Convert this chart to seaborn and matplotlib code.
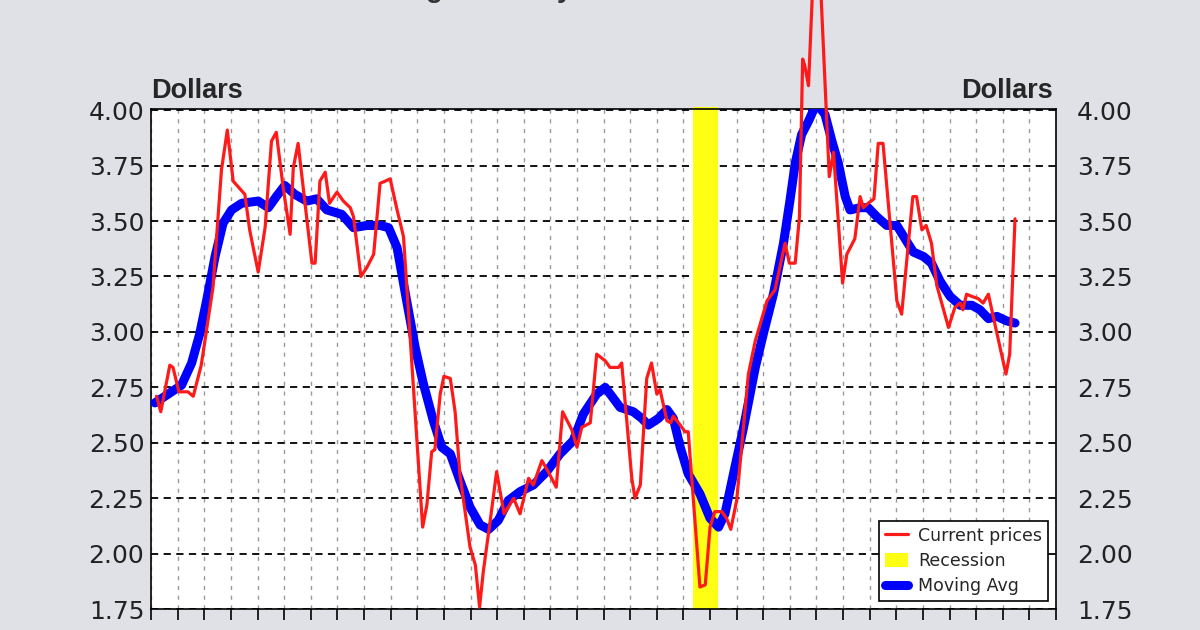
"""Benzinpreis (aktuell) mit gleitendem Durchschnitt und Rezessionsbalken."""

import matplotlib
matplotlib.use('Agg')
import matplotlib.pyplot as plt
import pandas as pd
import seaborn as sns
from matplotlib.lines import Line2D
from matplotlib.patches import Patch


# Daten (x in Dezimaljahren)
price_year = [
    2010.10, 2010.18, 2010.35, 2010.41, 2010.52, 2010.69, 2010.79, 2010.94, 2011.16, 2011.32,
    2011.43, 2011.54, 2011.76, 2011.85, 2012.01, 2012.14, 2012.26, 2012.35, 2012.48, 2012.61,
    2012.67, 2012.76, 2013.02, 2013.08, 2013.17, 2013.27, 2013.35, 2013.49, 2013.61, 2013.74,
    2013.80, 2013.94, 2014.05, 2014.18, 2014.30, 2014.40, 2014.49, 2014.62, 2014.74, 2015.10,
    2015.18, 2015.27, 2015.33, 2015.43, 2015.50, 2015.62, 2015.71, 2015.80, 2015.99, 2016.09,
    2016.17, 2016.24, 2016.37, 2016.49, 2016.63, 2016.81, 2016.93, 2017.09, 2017.18, 2017.34,
    2017.46, 2017.61, 2017.73, 2017.90, 2018.00, 2018.09, 2018.25, 2018.37, 2018.53, 2018.62,
    2018.78, 2018.84, 2019.03, 2019.09, 2019.19, 2019.31, 2019.40, 2019.50, 2019.56, 2019.69,
    2019.76, 2019.81, 2019.94, 2020.03, 2020.09, 2020.31, 2020.41, 2020.50, 2020.59, 2020.72,
    2020.81, 2020.89, 2021.00, 2021.22, 2021.35, 2021.57, 2021.72, 2021.91, 2021.99, 2022.10,
    2022.18, 2022.24, 2022.28, 2022.35, 2022.50, 2022.74, 2022.82, 2022.99, 2023.07, 2023.22,
    2023.32, 2023.38, 2023.47, 2023.58, 2023.66, 2023.75, 2024.01, 2024.10, 2024.31, 2024.38,
    2024.48, 2024.56, 2024.66, 2024.76, 2024.98, 2025.10, 2025.20, 2025.25, 2025.32, 2025.42,
    2025.54, 2025.63, 2025.73, 2025.82, 2026.06, 2026.13, 2026.23,
]
price_value = [
    2.71, 2.64, 2.85, 2.84, 2.73, 2.73, 2.71, 2.85, 3.20, 3.73,
    3.91, 3.68, 3.62, 3.46, 3.27, 3.47, 3.86, 3.90, 3.65, 3.44,
    3.74, 3.85, 3.31, 3.31, 3.68, 3.72, 3.58, 3.63, 3.59, 3.56,
    3.52, 3.25, 3.29, 3.35, 3.67, 3.68, 3.69, 3.55, 3.43, 2.12,
    2.22, 2.46, 2.47, 2.72, 2.80, 2.79, 2.64, 2.36, 2.03, 1.95,
    1.76, 1.92, 2.15, 2.37, 2.18, 2.25, 2.18, 2.34, 2.31, 2.42,
    2.37, 2.30, 2.64, 2.56, 2.48, 2.57, 2.59, 2.90, 2.87, 2.84,
    2.84, 2.86, 2.34, 2.25, 2.31, 2.79, 2.86, 2.72, 2.74, 2.60,
    2.59, 2.62, 2.58, 2.55, 2.55, 1.85, 1.86, 2.12, 2.19, 2.19,
    2.16, 2.11, 2.24, 2.81, 2.96, 3.14, 3.19, 3.40, 3.31, 3.31,
    3.52, 4.23, 4.20, 4.11, 4.97, 3.70, 3.81, 3.22, 3.35, 3.42,
    3.61, 3.56, 3.58, 3.60, 3.85, 3.85, 3.14, 3.08, 3.61, 3.61,
    3.46, 3.48, 3.40, 3.21, 3.02, 3.11, 3.13, 3.10, 3.17, 3.16,
    3.15, 3.13, 3.17, 3.07, 2.81, 2.90, 3.51,
]

avg_year = [
    2010.07, 2010.32, 2010.57, 2010.76, 2010.91, 2011.04, 2011.20, 2011.35, 2011.51, 2011.70,
    2012.01, 2012.20, 2012.35, 2012.51, 2012.70, 2012.92, 2013.11, 2013.30, 2013.58, 2013.80,
    2014.05, 2014.30, 2014.46, 2014.62, 2014.80, 2014.96, 2015.11, 2015.30, 2015.46, 2015.62,
    2015.80, 2015.99, 2016.18, 2016.34, 2016.52, 2016.71, 2016.93, 2017.18, 2017.43, 2017.68,
    2017.93, 2018.12, 2018.37, 2018.53, 2018.81, 2019.06, 2019.22, 2019.34, 2019.53, 2019.69,
    2019.81, 2019.94, 2020.09, 2020.31, 2020.50, 2020.66, 2020.78, 2020.94, 2021.13, 2021.35,
    2021.50, 2021.69, 2021.88, 2022.00, 2022.10, 2022.22, 2022.35, 2022.50, 2022.66, 2022.79,
    2022.91, 2023.04, 2023.13, 2023.32, 2023.47, 2023.63, 2023.82, 2024.01, 2024.19, 2024.32,
    2024.51, 2024.66, 2024.82, 2025.01, 2025.20, 2025.42, 2025.57, 2025.73, 2025.89, 2026.07,
    2026.23,
]
avg_value = [
    2.68, 2.72, 2.76, 2.86, 2.99, 3.14, 3.34, 3.49, 3.55, 3.58,
    3.59, 3.56, 3.61, 3.66, 3.62, 3.59, 3.60, 3.55, 3.53, 3.47,
    3.48, 3.48, 3.47, 3.38, 3.14, 2.93, 2.77, 2.60, 2.48, 2.45,
    2.33, 2.21, 2.13, 2.11, 2.15, 2.24, 2.28, 2.31, 2.37, 2.45,
    2.51, 2.63, 2.72, 2.75, 2.66, 2.64, 2.61, 2.58, 2.61, 2.65,
    2.61, 2.48, 2.36, 2.27, 2.16, 2.12, 2.18, 2.36, 2.57, 2.84,
    2.99, 3.17, 3.40, 3.59, 3.76, 3.89, 3.95, 4.03, 3.98, 3.86,
    3.76, 3.61, 3.55, 3.56, 3.56, 3.52, 3.48, 3.48, 3.41, 3.36,
    3.34, 3.31, 3.23, 3.16, 3.12, 3.12, 3.10, 3.06, 3.07, 3.05,
    3.04,
]

recession_start = 2020.18
recession_end = 2020.65

y_ticks = [1.75, 2.00, 2.25, 2.50, 2.75, 3.00, 3.25, 3.50, 3.75, 4.00]
x_ticks = [2010 + 0.5 * i for i in range(35)]

BG = '#dfe1e6'
RED = '#ff1a1a'
BLUE = '#0000ff'
YELLOW = '#ffff14'
LABEL_FONT = ['DejaVu Sans']


def main():
    sns.set_style('white')
    plt.rcParams['font.family'] = ['Liberation Sans', 'DejaVu Sans']

    price_df = pd.DataFrame({'year': price_year, 'value': price_value})
    avg_df = pd.DataFrame({'year': avg_year, 'value': avg_value})

    fig = plt.figure(figsize=(12, 6.3), dpi=100, facecolor=BG)
    ax = fig.add_axes([0.126, 0.033, 0.754, 0.794])
    ax.set_facecolor('white')

    # Rezession
    ax.axvspan(recession_start, recession_end, ymax=1.004, color=YELLOW, lw=0,
               zorder=1.5, clip_on=False)

    sns.lineplot(data=avg_df, x='year', y='value', ax=ax, color=BLUE, lw=6.5,
                 solid_capstyle='round', zorder=3)
    sns.lineplot(data=price_df, x='year', y='value', ax=ax, color=RED, lw=2.3,
                 zorder=4, clip_on=False)

    ax.set_xlim(2010, 2027)
    ax.set_ylim(1.75, 4.005)
    ax.set_xlabel('')
    ax.set_ylabel('')

    # Gitter
    ax.set_axisbelow(True)
    ax.set_yticks(y_ticks)
    ax.set_xticks(x_ticks)
    ax.yaxis.grid(True, color='black', lw=1.3, ls=(0, (4, 3)))
    ax.xaxis.grid(True, color='#9a9a9a', lw=1.0, ls=(0, (3, 4)))

    ax.set_xticklabels([])
    ax.tick_params(axis='x', direction='out', length=8, width=1.2, color='black', bottom=True)
    ax.tick_params(axis='y', length=0, pad=5, labelsize=18, labelcolor='#222222')
    ax.set_yticklabels([f'{t:.2f}' for t in y_ticks], family=LABEL_FONT)

    for spine in ax.spines.values():
        spine.set_color('black')
        spine.set_linewidth(1.2)

    ax2 = ax.twinx()
    ax2.set_ylim(ax.get_ylim())
    ax2.set_yticks(y_ticks)
    ax2.set_yticklabels([f'{t:.2f}' for t in y_ticks], family=LABEL_FONT)
    ax2.tick_params(axis='y', length=0, pad=15, labelsize=18, labelcolor='#222222')
    for spine in ax2.spines.values():
        spine.set_visible(False)

    fig.text(0.126, 0.845, 'Dollars', fontsize=19.5, fontweight='bold', ha='left', va='baseline')
    fig.text(0.877, 0.845, 'Dollars', fontsize=19.5, fontweight='bold', ha='right', va='baseline')

    # Titel (in der Vorlage oben abgeschnitten)
    fig.text(0.292, 1.005, 'Average Monthly', fontsize=20, fontweight='bold',
             ha='left', va='baseline', color='#333333')

    handles = [
        Line2D([0], [0], color=RED, lw=2.3),
        Patch(facecolor=YELLOW, edgecolor='none'),
        Line2D([0], [0], color=BLUE, lw=6.5, solid_capstyle='round'),
    ]
    leg = ax.legend(handles, ['Current prices', 'Recession', 'Moving Avg'],
                    loc='lower right', prop={'family': LABEL_FONT, 'size': 12.5},
                    frameon=True, fancybox=False, borderaxespad=0.45,
                    handlelength=1.3, handleheight=0.9, handletextpad=0.6,
                    labelspacing=0.42, borderpad=0.35)
    leg.get_frame().set_edgecolor('black')
    leg.get_frame().set_linewidth(1.2)
    leg.get_frame().set_alpha(1)
    leg.set_zorder(10)

    fig.savefig('out.png', dpi=100, facecolor=BG)
    plt.close(fig)


if __name__ == '__main__':
    main()
